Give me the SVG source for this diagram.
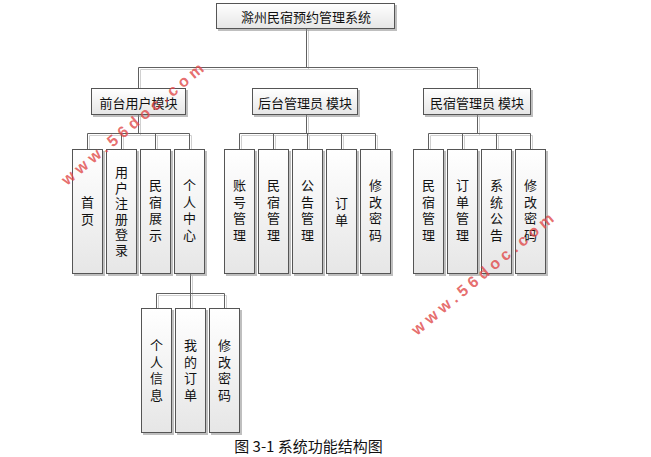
<svg xmlns="http://www.w3.org/2000/svg" width="651" height="457" viewBox="0 0 651 457">
<defs>
<linearGradient id="g" x1="0" y1="0" x2="0" y2="1">
<stop offset="0" stop-color="#ffffff"/>
<stop offset="1" stop-color="#e6e6e6"/>
</linearGradient>
<filter id="sh" x="-10%" y="-10%" width="130%" height="130%">
<feDropShadow dx="2" dy="2" stdDeviation="0.6" flood-color="#8a8a8a" flood-opacity="0.55"/>
</filter>
<filter id="lsh" x="-5%" y="-5%" width="110%" height="110%">
<feDropShadow dx="2" dy="2" stdDeviation="0.4" flood-color="#b0b0b0" flood-opacity="0.6"/>
</filter>
</defs>
<style>
.box{fill:url(#g);stroke:#555555;stroke-width:1;filter:url(#sh)}
.t{font-family:"Noto Sans CJK SC","Noto Sans CJK JP",sans-serif;font-size:13px;fill:#111;text-anchor:middle;dominant-baseline:central}
.v{font-family:"Noto Sans CJK SC","Noto Sans CJK JP",sans-serif;font-size:13px;fill:#111;text-anchor:middle;writing-mode:vertical-rl;letter-spacing:3.6px}
.v6{letter-spacing:2.6px}
.v2{letter-spacing:4px}
.ln{fill:none;stroke:#606060;stroke-width:1}
.cap{font-family:"Noto Sans CJK SC","Noto Sans CJK JP",sans-serif;font-size:15px;fill:#111;text-anchor:middle}
.wm{font-family:"Liberation Sans",Arial,sans-serif;font-weight:bold;font-size:16px;letter-spacing:4.6px;fill:#e04848;fill-opacity:0.8}
</style>
<rect width="651" height="457" fill="#ffffff"/>

<g id="connectors" filter="url(#lsh)">
<path class="ln" d="M306.5,28 V67.5 M138.5,67.5 H477.5 M138.5,67.5 V88 M477.5,67.5 V88"/>
<path class="ln" d="M138.5,115 V133.5 M87.5,133.5 H189.5 M87.5,133.5 V149 M121.5,133.5 V149 M155.5,133.5 V149 M189.5,133.5 V149"/>
<path class="ln" d="M306.5,115 V133.5 M239.5,133.5 H375.5 M239.5,133.5 V149 M273.5,133.5 V149 M307.5,133.5 V149 M341.5,133.5 V149 M375.5,133.5 V149"/>
<path class="ln" d="M477.5,115 V133.5 M428.5,133.5 H530.5 M428.5,133.5 V149 M462.5,133.5 V149 M496.5,133.5 V149 M530.5,133.5 V149"/>
<path class="ln" d="M190.5,274 V308 M156.5,293.5 H224.5 M156.5,293.5 V308 M224.5,293.5 V308"/>
</g>

<g id="root">
<rect class="box" x="216.5" y="3.5" width="178" height="25"/>
<text class="t" x="306" y="16">滁州民宿预约管理系统</text>
</g>

<g id="mod-front">
<rect class="box" x="91.5" y="88.5" width="94" height="26"/>
<text class="t" x="138.5" y="102">前台用户模块</text>
</g>
<g id="mod-admin">
<rect class="box" x="252.5" y="88.5" width="105" height="26"/>
<text class="t" x="305" y="102">后台管理员 模块</text>
</g>
<g id="mod-host">
<rect class="box" x="423.5" y="88.5" width="107" height="26"/>
<text class="t" x="477" y="102">民宿管理员 模块</text>
</g>

<g id="n-home">
<rect class="box" x="72.5" y="149.5" width="30" height="124"/>
<text class="v v2" x="87.5" y="213">首页</text>
</g>
<g id="n-register">
<rect class="box" x="106.5" y="149.5" width="30" height="124"/>
<text class="v v6" x="121.5" y="212.3">用户注册登录</text>
</g>
<g id="n-show">
<rect class="box" x="140.5" y="149.5" width="30" height="124"/>
<text class="v" x="155.5" y="211.8">民宿展示</text>
</g>
<g id="n-center">
<rect class="box" x="174.5" y="149.5" width="30" height="124"/>
<text class="v" x="189.5" y="211.8">个人中心</text>
</g>

<g id="n-account">
<rect class="box" x="224.5" y="149.5" width="30" height="124"/>
<text class="v" x="239.5" y="211.8">账号管理</text>
</g>
<g id="n-homestay">
<rect class="box" x="258.5" y="149.5" width="30" height="124"/>
<text class="v" x="273.5" y="211.8">民宿管理</text>
</g>
<g id="n-notice">
<rect class="box" x="292.5" y="149.5" width="30" height="124"/>
<text class="v" x="307.5" y="211.8">公告管理</text>
</g>
<g id="n-order">
<rect class="box" x="326.5" y="149.5" width="30" height="124"/>
<text class="v v2" x="341.5" y="214">订单</text>
</g>
<g id="n-pwd1">
<rect class="box" x="360.5" y="149.5" width="30" height="124"/>
<text class="v" x="375.5" y="211.8">修改密码</text>
</g>

<g id="n-hs-manage">
<rect class="box" x="413.5" y="149.5" width="30" height="124"/>
<text class="v" x="428.5" y="211.8">民宿管理</text>
</g>
<g id="n-order-manage">
<rect class="box" x="447.5" y="149.5" width="30" height="124"/>
<text class="v" x="462.5" y="211.8">订单管理</text>
</g>
<g id="n-sys-notice">
<rect class="box" x="481.5" y="149.5" width="30" height="124"/>
<text class="v" x="496.5" y="211.8">系统公告</text>
</g>
<g id="n-pwd2">
<rect class="box" x="515.5" y="149.5" width="30" height="124"/>
<text class="v" x="530.5" y="211.8">修改密码</text>
</g>

<g id="n-info">
<rect class="box" x="141.5" y="308.5" width="30" height="124"/>
<text class="v" x="156.5" y="371.8">个人信息</text>
</g>
<g id="n-myorder">
<rect class="box" x="175.5" y="308.5" width="30" height="124"/>
<text class="v" x="190.5" y="371.8">我的订单</text>
</g>
<g id="n-pwd3">
<rect class="box" x="209.5" y="308.5" width="30" height="124"/>
<text class="v" x="224.5" y="371.8">修改密码</text>
</g>

<text class="cap" x="308.5" y="452">图 3-1 系统功能结构图</text>

<text class="wm" transform="translate(67,186) rotate(-40)">www.56doc.com</text>
<text class="wm" transform="translate(417,336) rotate(-40)">www.56doc.com</text>
</svg>
